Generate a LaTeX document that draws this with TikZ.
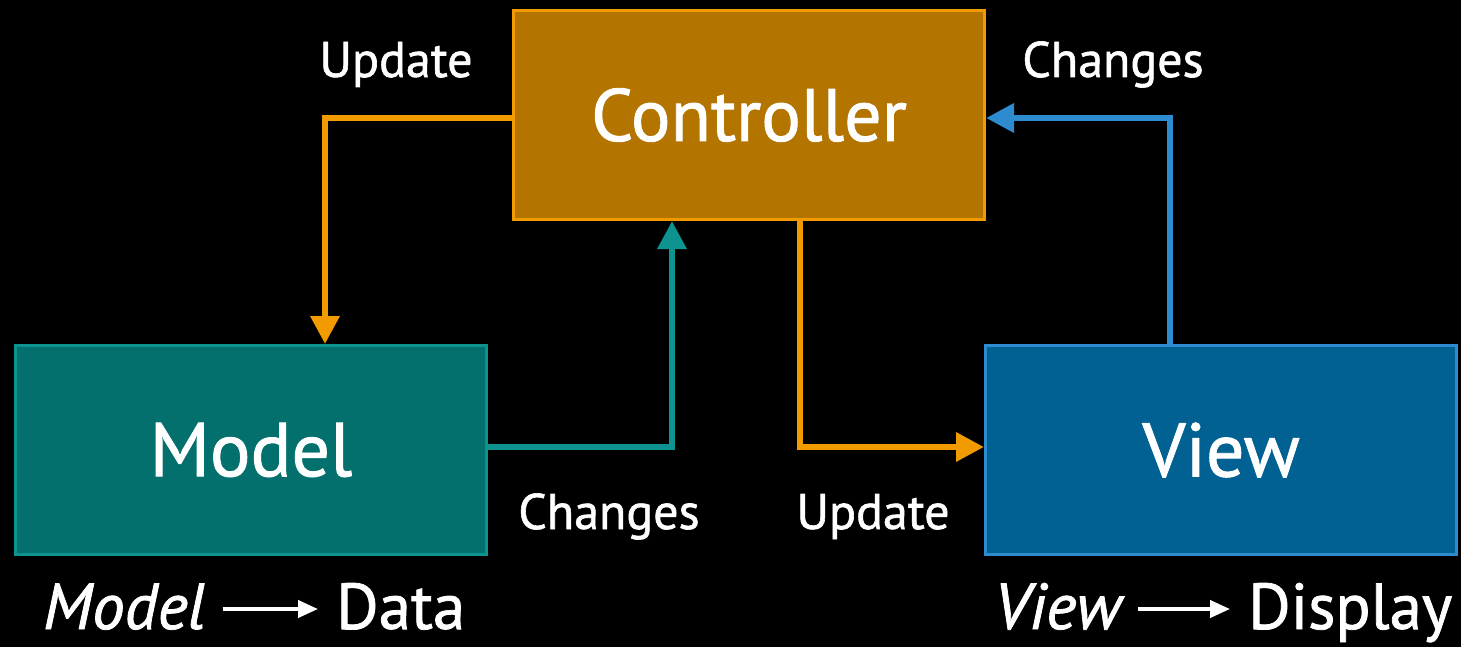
\documentclass[tikz,border=0pt]{standalone}
\usepackage{fontspec}
\setmainfont{PT Sans}[
  BoldFont={PT Sans}, BoldFeatures={FakeBold=1.2},
  BoldItalicFont={PT Sans Italic}, BoldItalicFeatures={FakeBold=1.2}]
\usetikzlibrary{arrows.meta,positioning,calc}

\definecolor{ctrlline}{HTML}{F29B00}
\definecolor{ctrlfill}{HTML}{B37400}
\definecolor{modelline}{HTML}{0E9490}
\definecolor{modelfill}{HTML}{03706D}
\definecolor{viewline}{HTML}{2E8BD0}
\definecolor{viewfill}{HTML}{006192}

\tikzset{
  block/.style={rectangle, line width=3pt, minimum width=471pt, minimum height=209pt,
    inner sep=0pt, text=white, font=\bfseries\fontsize{76}{80}\selectfont},
  conn/.style={line width=6.5pt, -{Triangle[length=28pt,width=28pt]}},
  lbl/.style={text=white, inner sep=0pt, anchor=base, font=\bfseries\fontsize{50}{54}\selectfont},
  caption/.style={text=white, inner sep=0pt, anchor=base, font=\bfseries\fontsize{65}{68}\selectfont},
  smallarrow/.style={draw=white, line width=4pt, -{Triangle[length=20pt,width=17pt]}}
}

\begin{document}
\begin{tikzpicture}[x=1pt,y=-1pt]
  \fill[black] (0,0) rectangle (1461,647);
  \useasboundingbox (0,0) rectangle (1461,647);

  % three blocks
  \node[block, draw=ctrlline, fill=ctrlfill, font=\bfseries\fontsize{74}{78}\selectfont] (ctrl) at (749,115) {Controller};
  \node[block, draw=modelline, fill=modelfill] (model) at (251,450) {Model};
  \node[block, draw=viewline, fill=viewfill] (view) at (1221,450) {View};

  % connectors
  \draw[conn, ctrlline] ([yshift=-3pt]ctrl.west) -| ([xshift=74pt]model.north);
  \draw[conn, modelline] ([yshift=3pt]model.east) -| ([xshift=-77pt]ctrl.south);
  \draw[conn, ctrlline] ([xshift=51pt]ctrl.south) |- ([yshift=3pt]view.west);
  \draw[conn, viewline] ([xshift=-51pt]view.north) |- ([yshift=-3pt]ctrl.east);

  % connector labels
  \node[lbl] (upd1) at (396,77) {Update};
  \node[lbl] (chg1) at (1113,77) {Changes};
  \node[lbl] (chg2) at (609,529) {Changes};
  \node[lbl] (upd2) at (873,529) {Update};

  % captions
  \node[caption, anchor=base west] (mit) at (43,629) {\itshape Model};
  \node[caption, anchor=base west] (data) at (336,629) {Data};
  \draw[smallarrow] ([xshift=17pt,yshift=20pt]mit.base east) -- ([xshift=-18pt,yshift=20pt]data.base west);

  \node[caption, anchor=base west] (vit) at (994,629) {\itshape View};
  \node[caption, anchor=base west] (disp) at (1248,629) {Display};
  \draw[smallarrow] ([xshift=17pt,yshift=20pt]vit.base east) -- ([xshift=-18pt,yshift=20pt]disp.base west);
\end{tikzpicture}
\end{document}
